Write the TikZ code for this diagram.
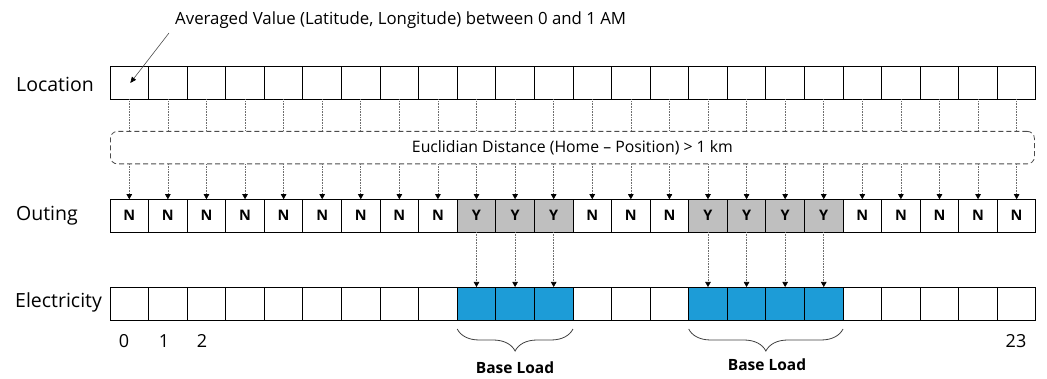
\documentclass[tikz,border=0pt]{standalone}
\usepackage{fontspec}
\setmainfont{Open Sans}
\usetikzlibrary{arrows.meta,decorations.pathreplacing,calc}
\definecolor{ygray}{RGB}{191,191,191}
\definecolor{eblue}{RGB}{29,156,215}
\definecolor{dotc}{RGB}{110,110,110}
\begin{document}
\begin{tikzpicture}[x=1pt,y=-1pt,
  cell/.style={draw=black,line width=0.9pt,minimum width=38.58pt,minimum height=33pt,inner sep=0pt,outer sep=0pt,anchor=north west,font=\fontsize{14.5}{16}\selectfont\bfseries},
  rowlabel/.style={anchor=west,inner sep=0pt,font=\fontsize{19.5}{22}\selectfont},
  numlabel/.style={inner sep=0pt,font=\fontsize{18}{21}\selectfont},
  dotline/.style={draw=dotc,line width=0.6pt,densely dotted},
  dotarrow/.style={dotline,-{Triangle[length=5pt,width=5.5pt,black]}},
  bracestyle/.style={draw=black!75,line width=0.8pt,decorate,decoration={brace,mirror,amplitude=22pt,aspect=0.5}},
  baselabel/.style={inner sep=0pt,font=\fontsize{15.5}{17}\selectfont\bfseries}
]
\useasboundingbox (0,0) rectangle (1047,379);

% row labels
\node[rowlabel] (lblloc) at (16,84) {Location};
\node[rowlabel] (lblout) at (16,216) {Outing};
\node[rowlabel] (lblele) at (15,302) {Electricity};

% location row
\foreach \i in {0,...,23} {
  \node[cell] (loc-\i) at ({110+\i*38.58},66.5) {};
}

% dashed box
\node[draw=black!70,dashed,dash pattern=on 5pt off 3pt,line width=0.8pt,rounded corners=7pt,
  minimum width=924pt,minimum height=32.5pt,anchor=north west,inner sep=0pt,
  font=\fontsize{15.8}{18}\selectfont] (dist) at (110,131) {Euclidian Distance (Home -- Position) > 1 km};

% outing row
\foreach \v/\f [count=\j from 0] in {N/white,N/white,N/white,N/white,N/white,N/white,N/white,N/white,N/white,
  Y/ygray,Y/ygray,Y/ygray,N/white,N/white,N/white,Y/ygray,Y/ygray,Y/ygray,Y/ygray,
  N/white,N/white,N/white,N/white,N/white} {
  \node[cell,fill=\f] (out-\j) at ({110+\j*38.58},199.2) {\v};
}

% electricity row
\foreach \f [count=\j from 0] in {white,white,white,white,white,white,white,white,white,
  eblue,eblue,eblue,white,white,white,eblue,eblue,eblue,eblue,
  white,white,white,white,white} {
  \node[cell,fill=\f] (ele-\j) at ({110+\j*38.58},287) {};
}

% connectors location -> box, box -> outing
\foreach \i in {0,...,23} {
  \draw[dotline] (loc-\i.south) -- (loc-\i.south |- dist.north);
  \draw[dotarrow] (out-\i.north |- dist.south) -- (out-\i.north);
}

% outing Y -> electricity
\foreach \i in {9,10,11,15,16,17,18} {
  \draw[dotarrow] (out-\i.south) -- (ele-\i.north);
}

% hour numbers
\node[numlabel] (h0) at (124,341) {0};
\node[numlabel] (h1) at (164,341) {1};
\node[numlabel] (h2) at (202,341) {2};
\node[numlabel] (h23) at (1016,341) {23};

% braces
\coordinate (b1a) at ($(ele-9.south west)+(0,9)$);
\coordinate (b1b) at ($(ele-11.south east)+(0,9)$);
\coordinate (b2a) at ($(ele-15.south west)+(0,9)$);
\coordinate (b2b) at ($(ele-18.south east)+(0,9)$);
\draw[bracestyle] (b1a) -- (b1b);
\draw[bracestyle] (b2a) -- (b2b);
\node[baselabel] (bl1) at (515,368) {Base Load};
\node[baselabel] (bl2) at (767,365) {Base Load};

% annotation
\node[anchor=west,inner sep=0pt,font=\fontsize{16.8}{19}\selectfont] (ann) at (175,20) {Averaged Value (Latitude, Longitude) between 0 and 1 AM};
\coordinate (anntail) at (169,33);
\draw[line width=0.6pt,draw=black!70,-{Triangle[length=6pt,width=5pt,black]}] (anntail) -- ($(loc-0.center)+(1,0)$);
\end{tikzpicture}
\end{document}
